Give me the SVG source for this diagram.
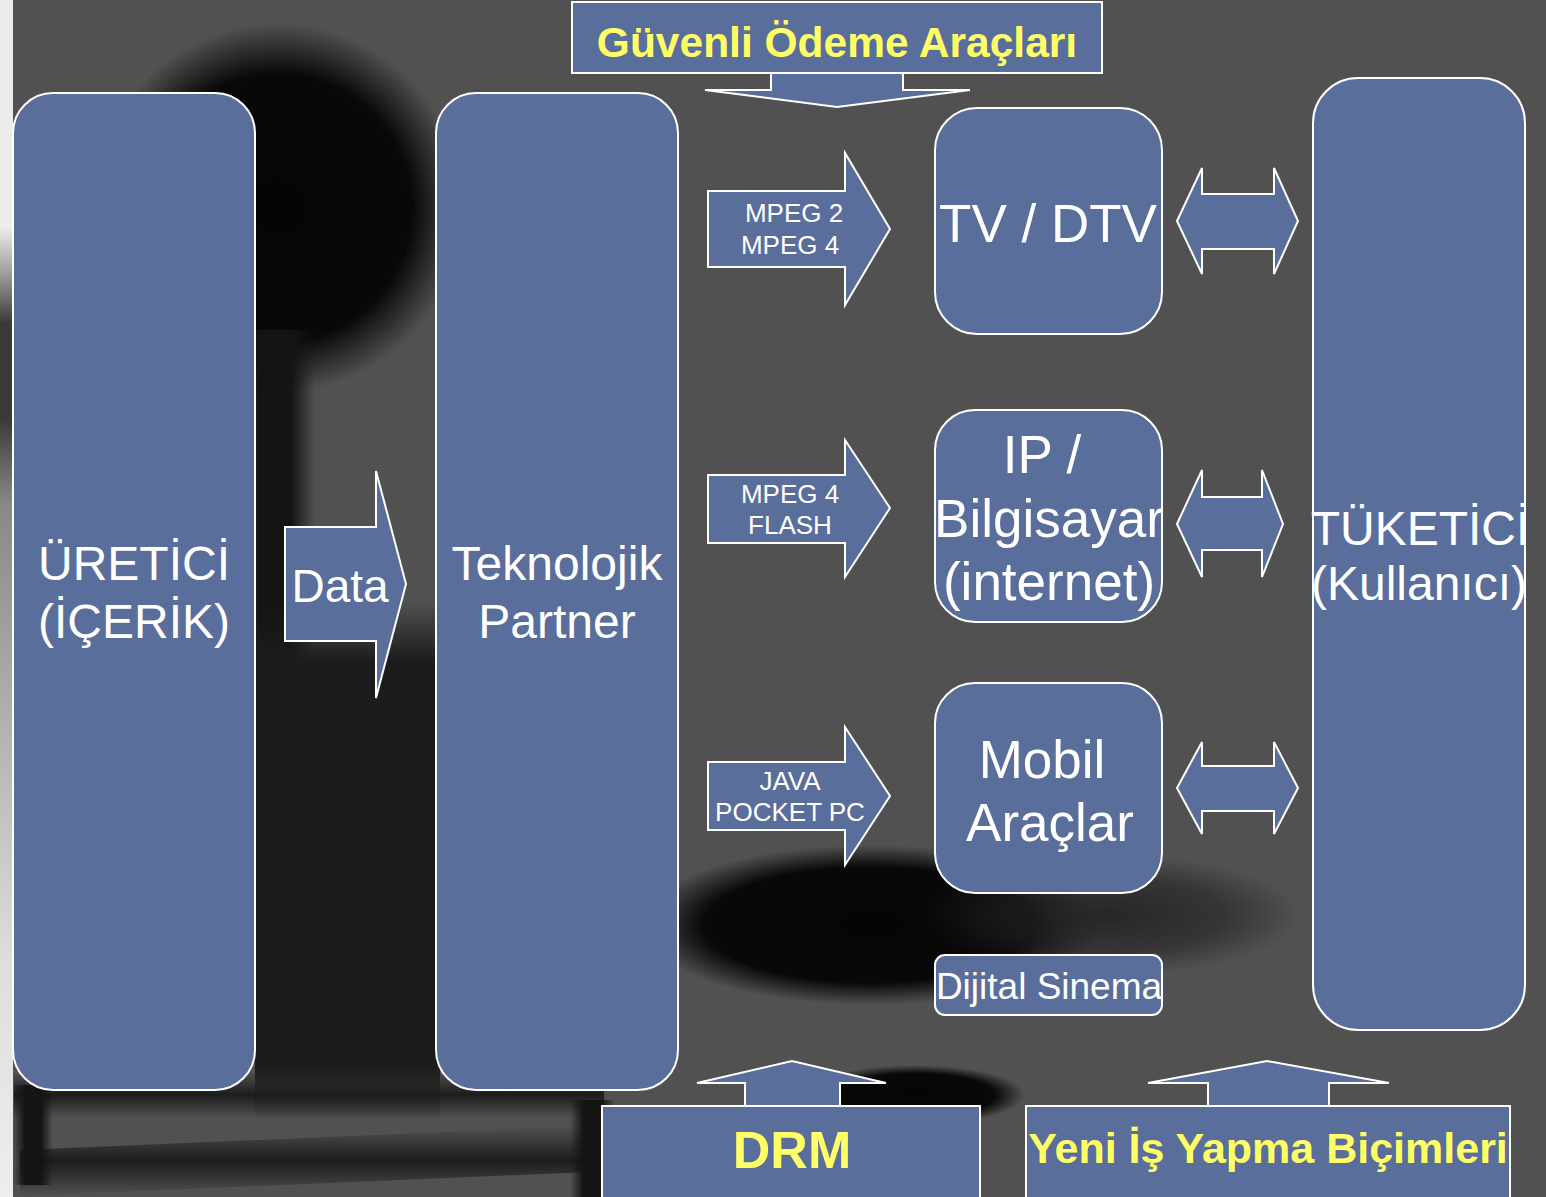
<svg xmlns="http://www.w3.org/2000/svg" width="1546" height="1197" viewBox="0 0 1546 1197">
<defs>
<style>
.box{fill:#5a6e9c;stroke:#ffffff;stroke-width:2}
.t{font-family:"Liberation Sans",Arial,sans-serif;fill:#ffffff;text-anchor:middle}
.y{font-family:"Liberation Sans",Arial,sans-serif;fill:#ffff66;font-weight:bold;text-anchor:middle}
</style>
<radialGradient id="rg">
<stop offset="0" stop-color="#050505" stop-opacity="1"/>
<stop offset="0.72" stop-color="#080808" stop-opacity="1"/>
<stop offset="1" stop-color="#080808" stop-opacity="0"/>
</radialGradient>
<radialGradient id="rg2">
<stop offset="0" stop-color="#222222" stop-opacity="0.9"/>
<stop offset="0.6" stop-color="#222222" stop-opacity="0.6"/>
<stop offset="1" stop-color="#222222" stop-opacity="0"/>
</radialGradient>
<linearGradient id="hfade" x1="0" y1="0" x2="1" y2="0">
<stop offset="0" stop-color="#141414" stop-opacity="0"/>
<stop offset="0.3" stop-color="#141414" stop-opacity="1"/>
<stop offset="0.7" stop-color="#141414" stop-opacity="1"/>
<stop offset="1" stop-color="#141414" stop-opacity="0"/>
</linearGradient>
<linearGradient id="vcol" x1="0" y1="0" x2="0" y2="1">
<stop offset="0" stop-color="#1c1c1c" stop-opacity="0"/>
<stop offset="0.12" stop-color="#1c1c1c" stop-opacity="1"/>
<stop offset="0.9" stop-color="#1c1c1c" stop-opacity="1"/>
<stop offset="1" stop-color="#1c1c1c" stop-opacity="0"/>
</linearGradient>
<linearGradient id="vband" x1="0" y1="0" x2="0" y2="1">
<stop offset="0" stop-color="#1c1c1c" stop-opacity="0"/>
<stop offset="0.5" stop-color="#1c1c1c" stop-opacity="1"/>
<stop offset="1" stop-color="#1c1c1c" stop-opacity="0"/>
</linearGradient>
<linearGradient id="leftg" x1="0" y1="0" x2="0" y2="1">
<stop offset="0" stop-color="#ececec"/>
<stop offset="0.19" stop-color="#ececec"/>
<stop offset="0.23" stop-color="#9a9a9a"/>
<stop offset="0.27" stop-color="#3a3a3a"/>
<stop offset="0.35" stop-color="#3a3a3a"/>
<stop offset="0.42" stop-color="#888888"/>
<stop offset="0.6" stop-color="#b0b0b0"/>
<stop offset="0.8" stop-color="#dddddd"/>
<stop offset="1" stop-color="#eeeeee"/>
</linearGradient>
</defs>

<g id="background">
<rect x="0" y="0" width="1546" height="1197" fill="#515151"/>
<circle cx="278" cy="208" r="185" fill="url(#rg)"/>
<rect x="235" y="330" width="80" height="420" fill="url(#hfade)"/>
<rect x="255" y="600" width="185" height="520" fill="url(#vcol)"/>
<rect x="14" y="1072" width="590" height="46" fill="url(#vband)"/>
<path d="M20 1150 L590 1126 L590 1172 L20 1196 Z" fill="url(#vband)"/>
<rect x="13" y="1085" width="40" height="100" fill="url(#hfade)"/>
<ellipse cx="870" cy="925" rx="230" ry="80" fill="url(#rg)"/>
<ellipse cx="1110" cy="915" rx="190" ry="60" fill="url(#rg2)"/>
<ellipse cx="915" cy="1095" rx="110" ry="30" fill="url(#rg)"/>
<rect x="570" y="1100" width="45" height="97" fill="url(#hfade)"/>
<rect x="0" y="0" width="13" height="1197" fill="url(#leftg)"/>
</g>

<g id="connectors">
<path id="arrow-payment" class="box" d="M771 72 L903 72 L903 90 L970 90 L837 107 L705 90 L771 90 Z"/>
<path id="arrow-data" class="box" d="M285 527 L376 527 L376 471 L406 584 L376 698 L376 641 L285 641 Z"/>
<path id="arrow-tv" class="box" d="M708 191 L845 191 L845 153 L890 229 L845 305 L845 267 L708 267 Z"/>
<path id="arrow-ip" class="box" d="M708 475 L845 475 L845 440 L890 508 L845 577 L845 543 L708 543 Z"/>
<path id="arrow-mobil" class="box" d="M708 762 L845 762 L845 727 L890 796 L845 865 L845 830 L708 830 Z"/>
<path id="darrow-tv" class="box" d="M1177 221 L1202 168 L1202 194 L1274 194 L1274 168 L1298 221 L1274 274 L1274 249 L1202 249 L1202 274 Z"/>
<path id="darrow-ip" class="box" d="M1177 524 L1202 470 L1202 497 L1262 497 L1262 470 L1283 524 L1262 577 L1262 550 L1202 550 L1202 577 Z"/>
<path id="darrow-mobil" class="box" d="M1177 788 L1202 742 L1202 766 L1274 766 L1274 742 L1298 788 L1274 834 L1274 811 L1202 811 L1202 834 Z"/>
<path id="arrow-drm" class="box" d="M745 1107 L745 1083 L697 1083 L792 1061 L886 1083 L840 1083 L840 1107 Z"/>
<path id="arrow-yeni" class="box" d="M1208 1107 L1208 1083 L1148 1083 L1267 1061 L1389 1083 L1329 1083 L1329 1107 Z"/>
</g>

<g id="node-odeme">
<rect class="box" x="572" y="2" width="530" height="71"/>
<text class="y" x="837" y="57" font-size="42.5">Güvenli Ödeme Araçları</text>
</g>

<g id="node-uretici">
<rect class="box" x="13" y="93" width="242" height="997" rx="40"/>
<text class="t" x="134" y="580" font-size="48">ÜRETİCİ</text>
<text class="t" x="134" y="638" font-size="48">(İÇERİK)</text>
</g>

<g id="node-data-label">
<text class="t" x="340" y="602" font-size="46">Data</text>
</g>

<g id="node-partner">
<rect class="box" x="436" y="93" width="242" height="997" rx="40"/>
<text class="t" x="557" y="580" font-size="48">Teknolojik</text>
<text class="t" x="557" y="638" font-size="48">Partner</text>
</g>

<g id="labels-formats">
<text class="t" x="794" y="222" font-size="26">MPEG 2</text>
<text class="t" x="790" y="254" font-size="26">MPEG 4</text>
<text class="t" x="790" y="503" font-size="26">MPEG 4</text>
<text class="t" x="790" y="534" font-size="26">FLASH</text>
<text class="t" x="790" y="790" font-size="26">JAVA</text>
<text class="t" x="790" y="821" font-size="26">POCKET PC</text>
</g>

<g id="node-tv">
<rect class="box" x="935" y="108" width="227" height="226" rx="42"/>
<text class="t" x="1048" y="242" font-size="53">TV / DTV</text>
</g>

<g id="node-ip">
<rect class="box" x="935" y="410" width="227" height="212" rx="40"/>
<text class="t" x="1042" y="473" font-size="53">IP /</text>
<text class="t" x="1049" y="537" font-size="53">Bilgisayar</text>
<text class="t" x="1049" y="600" font-size="53">(internet)</text>
</g>

<g id="node-mobil">
<rect class="box" x="935" y="683" width="227" height="210" rx="40"/>
<text class="t" x="1042" y="778" font-size="53">Mobil</text>
<text class="t" x="1050" y="841" font-size="53">Araçlar</text>
</g>

<g id="node-sinema">
<rect class="box" x="935" y="955" width="227" height="60" rx="10"/>
<text class="t" x="1049" y="999" font-size="37">Dijital Sinema</text>
</g>

<g id="node-tuketici">
<rect class="box" x="1313" y="78" width="212" height="952" rx="45"/>
<text class="t" x="1420" y="545" font-size="48">TÜKETİCİ</text>
<text class="t" x="1419" y="600" font-size="48">(Kullanıcı)</text>
</g>

<g id="node-drm">
<rect class="box" x="602" y="1106" width="378" height="100"/>
<text class="y" x="792" y="1168" font-size="52">DRM</text>
</g>

<g id="node-yeni">
<rect class="box" x="1026" y="1106" width="484" height="100"/>
<text class="y" x="1268" y="1163" font-size="43">Yeni İş Yapma Biçimleri</text>
</g>
</svg>
